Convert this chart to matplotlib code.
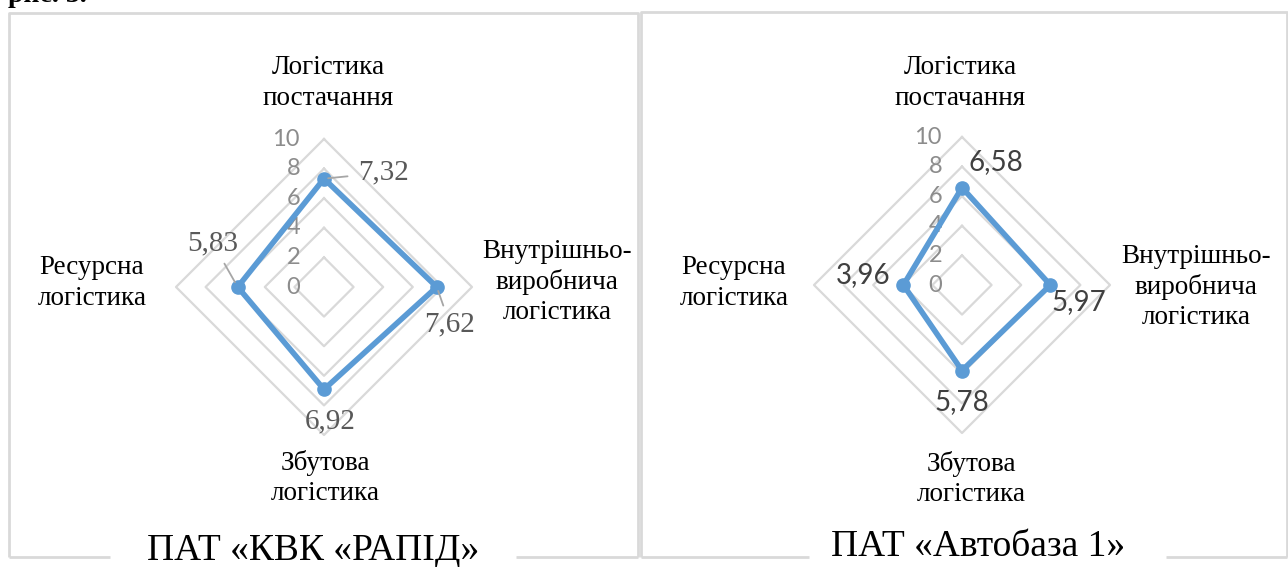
import numpy as np
import matplotlib.pyplot as plt

# categories, clockwise from the top
categories = ["Логістика\nпостачання", "Внутрішньо-\nвиробнича\nлогістика",
              "Збутова\nлогістика", "Ресурсна\nлогістика"]
rapid_values = [7.32, 7.62, 6.92, 5.83]
avtobaza_values = [6.58, 5.97, 5.78, 3.96]
rapid_labels = ["7,32", "7,62", "6,92", "5,83"]
avtobaza_labels = ["6,58", "5,97", "5,78", "3,96"]
ring_ticks = [0, 2, 4, 6, 8, 10]
titles = ["ПАТ «КВК «РАПІД»", "ПАТ «Автобаза 1»"]

W, H = 1288, 567
SCALE = 14.8          # pixels per unit
HALF = 12             # axes half-range in data units
SERIF = "Liberation Serif"
SANS = "Lato"
GRID = "#d9d9d9"
BLUE = "#5b9bd5"

fig = plt.figure(figsize=(W / 100, H / 100), dpi=100)

# overlay axes in pixel coordinates (origin top-left)
ov = fig.add_axes([0, 0, 1, 1])
ov.set_xlim(0, W)
ov.set_ylim(H, 0)
ov.axis("off")

# panel frames with a gap in the bottom border for the title
frame_kw = dict(color=GRID, lw=2, solid_capstyle="butt")
ov.plot([9, 9, 638, 638], [557, 13, 13, 557], **frame_kw)
ov.plot([9, 110], [557, 557], **frame_kw)
ov.plot([516, 638], [557, 557], **frame_kw)
ov.plot([641, 641, 1287, 1287], [557, 12, 12, 557], **frame_kw)
ov.plot([641, 809], [557, 557], **frame_kw)
ov.plot([1166, 1287], [557, 557], **frame_kw)

# caption from the page above, cut by the crop
ov.text(8, 2, "рис. 3.", family=SERIF, fontsize=20, fontweight="bold",
        va="baseline", ha="left", color="black")

angles = np.deg2rad([90, 0, -90, 180])


def radar(cx, cy, values, labels, label_offsets, label_font, label_size,
          label_color, leaders, tick_dx, cat_pos, title, title_pos):
    size = 2 * HALF * SCALE
    ax = fig.add_axes([(cx - size / 2) / W, (H - cy - size / 2) / H, size / W, size / H])
    ax.set_xlim(-HALF, HALF)
    ax.set_ylim(-HALF, HALF)
    ax.axis("off")

    # diamond grid
    for r in ring_ticks[1:]:
        xs = np.r_[r * np.cos(angles), r * np.cos(angles[0])]
        ys = np.r_[r * np.sin(angles), r * np.sin(angles[0])]
        ax.plot(xs, ys, color=GRID, lw=1.6, zorder=1)
    # axis labels
    for r in ring_ticks:
        ax.annotate(str(r), (0, r), xytext=(tick_dx, 0), textcoords="offset pixels",
                    ha="right", va="center", family=SANS, fontsize=17,
                    color="#8c8c8c", zorder=2)

    v = np.array(values)
    xs = v * np.cos(angles)
    ys = v * np.sin(angles)
    ax.plot(np.r_[xs, xs[0]], np.r_[ys, ys[0]], color=BLUE, lw=4,
            solid_joinstyle="miter", zorder=3)
    ax.plot(xs, ys, "o", color=BLUE, ms=9.5, zorder=4)

    for x, y, lab, off, lead in zip(xs, ys, labels, label_offsets, leaders):
        arrow = None
        if lead:
            arrow = dict(arrowstyle="-", color="#a6a6a6", lw=1.3,
                         shrinkA=lead[0], shrinkB=lead[1])
        ax.annotate(lab, (x, y), xytext=off, textcoords="offset pixels",
                    ha="center", va="center", family=label_font, fontsize=label_size,
                    color=label_color, arrowprops=arrow, zorder=5)

    for cat, (px, py) in zip(categories, cat_pos):
        ov.text(px, py, cat, ha="center", va="center", family=SERIF,
                fontsize=19.5, linespacing=1.27, color="black")
    ov.text(title_pos[0], title_pos[1], title, ha="center", va="center",
            family=SERIF, fontsize=27, color="black")


radar(324, 287, rapid_values, rapid_labels,
      [(60, 6), (13, -37), (6, -32), (-25, 44)], SERIF, 21, "#595959",
      [(6, 3), (2, 3), None, (4, 4)], -24,
      [(328, 83), (557, 282), (325, 478), (92, 283)],
      titles[0], (313, 551))

radar(962, 285, avtobaza_values, avtobaza_labels,
      [(34, 26), (28, -17), (0, -32), (-40, 10)], SANS, 20, "#404040",
      [None, None, None, None], -20,
      [(960, 83), (1196, 287), (971, 479), (734, 283)],
      titles[1], (978, 547))

fig.savefig("out.png", dpi=100)
